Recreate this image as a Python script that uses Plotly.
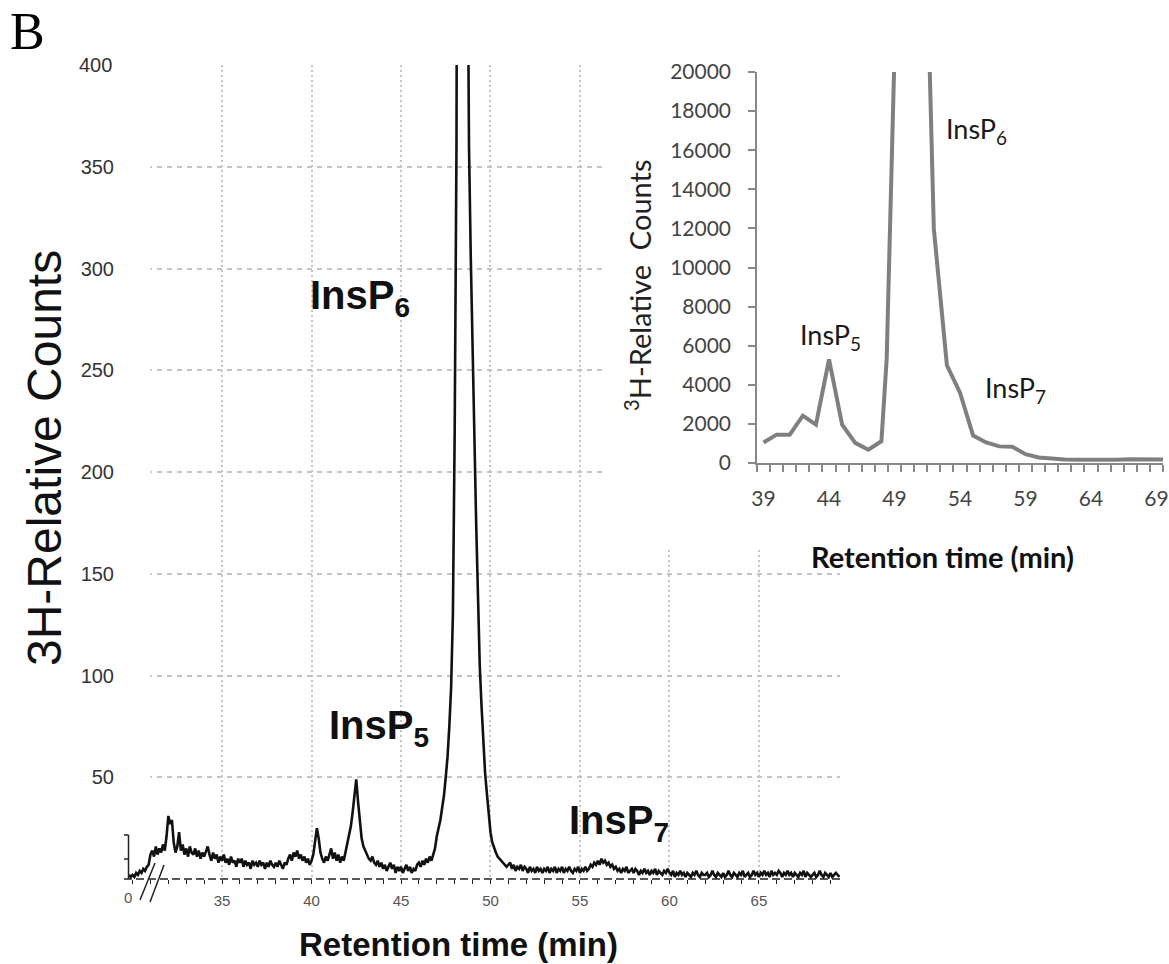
import plotly.graph_objects as go

W, H = 1169, 964

# ---------------- data ----------------
# main chromatogram: counts sampled every 0.1 min starting at 29.8 min
main_t0 = 29.8
main_dt = 0.1
main_counts = [
    2, 1,                                            # 29.8-29.9
    2, 1, 3, 2, 4, 3, 5, 4, 6, 7,                    # 30
    12, 14, 11, 16, 12, 15, 13, 17, 14, 21,          # 31
    31, 27, 29, 18, 13, 16, 23, 14, 17, 12,          # 32
    15, 11, 16, 13, 12, 15, 11, 14, 10, 13,          # 33
    11, 14, 16, 12, 9, 13, 10, 12, 8, 11,            # 34
    9, 12, 8, 10, 7, 11, 8, 9, 6, 10,                # 35
    8, 10, 6, 9, 7, 8, 5, 9, 7, 8,                   # 36
    6, 9, 7, 8, 5, 8, 6, 9, 7, 6,                    # 37
    8, 6, 9, 7, 5, 8, 7, 10, 12, 9,                  # 38
    13, 11, 14, 10, 12, 9, 11, 8, 10, 7,             # 39
    9, 12, 18, 25, 20, 13, 10, 8, 11, 9,             # 40
    12, 15, 10, 13, 9, 12, 8, 11, 9, 13,             # 41
    18, 21, 26, 33, 43, 49, 38, 27, 20, 16,          # 42
    14, 12, 10, 9, 11, 8, 7, 9, 6, 8,                # 43
    5, 7, 4, 6, 8, 5, 7, 3, 6, 4,                    # 44
    6, 3, 5, 7, 4, 6, 3, 5, 4, 7,                    # 45
    8, 6, 9, 7, 10, 8, 11, 9, 12, 15,                # 46
    21, 25, 29, 35, 41, 50, 60, 75, 94, 130,         # 47
    220, 360, 600, 1100, 1500, 1400, 1000, 500, 360, 305,  # 48
    255, 215, 175, 140, 105, 85, 65, 52, 42, 30,     # 49
    23, 18, 15, 13, 11, 10, 9, 8, 7, 6,              # 50
    7, 8, 5, 7, 4, 6, 5, 7, 4, 6,                    # 51
    5, 3, 6, 4, 5, 3, 6, 4, 5, 3,                    # 52
    5, 4, 6, 3, 5, 4, 6, 3, 5, 4,                    # 53
    6, 3, 5, 4, 6, 4, 3, 5, 4, 6,                    # 54
    3, 5, 4, 6, 4, 5, 7, 6, 8, 7,                    # 55
    9, 7, 10, 8, 9, 7, 8, 6, 7, 5,                   # 56
    6, 4, 5, 3, 5, 4, 6, 3, 4, 5,                    # 57
    3, 5, 4, 2, 4, 3, 5, 3, 4, 2,                    # 58
    4, 3, 5, 2, 4, 3, 2, 4, 3, 5,                    # 59
    3, 2, 4, 1, 3, 2, 4, 2, 3, 1,                    # 60
    3, 2, 1, 3, 2, 4, 2, 1, 3, 2,                    # 61
    2, 3, 1, 2, 4, 2, 1, 3, 2, 1,                    # 62
    3, 1, 2, 4, 2, 1, 3, 2, 1, 3,                    # 63
    2, 4, 1, 2, 3, 1, 2, 4, 2, 3,                    # 64
    1, 3, 2, 4, 2, 3, 1, 4, 2, 3,                    # 65
    2, 4, 3, 1, 3, 2, 4, 2, 3, 1,                    # 66
    3, 2, 1, 3, 2, 4, 1, 3, 2, 1,                    # 67
    2, 3, 1, 2, 4, 2, 1, 3, 2, 1,                    # 68
    3, 1, 2, 3, 2, 1,                                # 69.0-69.5
]
main_t = [round(main_t0 + i * main_dt, 2) for i in range(len(main_counts))]

main_xticks = [35, 40, 45, 50, 55, 60, 65]
main_xlabels = ["35", "40", "45", "50", "55", "60", "65"]
main_yticks = [50, 100, 150, 200, 250, 300, 350]

# inset chromatogram (per-minute fractions)
inset_t = [39, 40, 41, 42, 43, 44, 45, 46, 47, 48, 48.4, 49, 50, 51, 52, 53, 54,
           55, 56, 57, 58, 59, 60, 61, 62, 63, 64, 65, 66, 67, 68, 69, 70]
inset_counts = [1050, 1450, 1450, 2420, 1960, 5300, 1960, 1030, 680, 1110, 5300,
                21000, 60000, 38000, 12000, 5000, 3600, 1400, 1050, 850, 830,
                450, 280, 220, 180, 170, 160, 160, 170, 190, 200, 180, 170]
inset_xticks = [39, 44, 49, 54, 59, 64, 69]
inset_yticks = [0, 2000, 4000, 6000, 8000, 10000, 12000, 14000, 16000, 18000, 20000]


def px(x):
    return x / W


def py(y):
    return 1 - y / H


ARIAL = "Liberation Sans"
CAL = "Lato"
GRID = "#c4c4c4"

fig = go.Figure()
fig.add_trace(go.Scatter(x=main_t, y=main_counts, mode="lines",
                         line=dict(color="#111111", width=2.6),
                         xaxis="x", yaxis="y", hoverinfo="skip"))
fig.add_trace(go.Scatter(x=inset_t, y=inset_counts, mode="lines",
                         line=dict(color="#7f7f7f", width=4),
                         xaxis="x2", yaxis="y2", hoverinfo="skip"))

fig.update_layout(
    width=W, height=H, margin=dict(l=0, r=0, t=0, b=0, autoexpand=False),
    paper_bgcolor="white", plot_bgcolor="white", showlegend=False,
    xaxis=dict(domain=[px(127), px(840)], range=[29.69, 69.53], anchor="y",
               automargin=False,
               tickvals=main_xticks, ticktext=main_xlabels,
               ticks="outside", ticklen=4, tickcolor="#222", tickwidth=1,
               minor=dict(ticks="outside", ticklen=4, tick0=30, dtick=1,
                          tickcolor="#222", tickwidth=1),
               showgrid=True, gridcolor=GRID, griddash="2px,3px", gridwidth=1.5,
               showline=False, zeroline=False, ticklabelstandoff=4,
               tickfont=dict(family=ARIAL, size=15, color="#555")),
    yaxis=dict(domain=[py(879), py(65)], range=[0, 400], anchor="x",
               automargin=False,
               tickvals=main_yticks, ticks="",
               showgrid=True, gridcolor=GRID, griddash="5px,5px", gridwidth=1.5,
               showline=False, zeroline=False, ticklabelstandoff=12,
               tickfont=dict(family=ARIAL, size=20, color="#333")),
    xaxis2=dict(domain=[px(757), px(1163)], range=[38.5, 69.5], anchor="y2",
                automargin=False,
                tickvals=inset_xticks, ticks="outside", ticklen=0,
                minor=dict(ticks="outside", ticklen=7, tick0=38.5, dtick=1,
                           tickcolor="#888", tickwidth=1.5),
                showline=True, linecolor="#888", linewidth=1.5,
                showgrid=False, zeroline=False, ticklabelstandoff=16,
                tickfont=dict(family=CAL, size=21, color="#444")),
    yaxis2=dict(domain=[py(463), py(72)], range=[0, 20000], anchor="x2",
                automargin=False,
                tickvals=inset_yticks, ticktext=[str(v) for v in inset_yticks],
                ticks="outside", ticklen=7, tickcolor="#888", tickwidth=1.5,
                showline=True, linecolor="#888", linewidth=1.5,
                showgrid=False, zeroline=False, ticklabelstandoff=13,
                tickfont=dict(family=CAL, size=21, color="#444")),
)

shapes = [
    # white area behind the inset (hides main grid there)
    dict(type="rect", xref="x", yref="y", x0=56.3, x1=80, y0=162, y1=450,
         fillcolor="white", line=dict(width=0), layer="between"),
    # white strip left of the axis break
    dict(type="rect", xref="x", yref="y", x0=29.0, x1=31.0, y0=24, y1=450,
         fillcolor="white", line=dict(width=0), layer="between"),
    # dashed baseline / x axis
    dict(type="line", xref="paper", yref="paper", x0=px(124), x1=px(840),
         y0=py(879), y1=py(879), line=dict(color="#222", width=1.5, dash="8px,4px"),
         layer="above"),
    # short y-axis stub near the origin
    dict(type="line", xref="paper", yref="paper", x0=px(128.5), x1=px(128.5),
         y0=py(879), y1=py(835), line=dict(color="#222", width=1.5), layer="above"),
    dict(type="line", xref="paper", yref="paper", x0=px(124), x1=px(128.5),
         y0=py(835), y1=py(835), line=dict(color="#222", width=1.5), layer="above"),
    dict(type="line", xref="paper", yref="paper", x0=px(124), x1=px(128.5),
         y0=py(859), y1=py(859), line=dict(color="#222", width=1.5), layer="above"),
    # axis break marks //
    dict(type="line", xref="paper", yref="paper", x0=px(140), x1=px(155),
         y0=py(900), y1=py(863), line=dict(color="#222", width=1.5), layer="above"),
    dict(type="line", xref="paper", yref="paper", x0=px(150), x1=px(164),
         y0=py(902), y1=py(865), line=dict(color="#222", width=1.5), layer="above"),
]
fig.update_layout(shapes=shapes)

ann = [
    dict(text="B", x=px(27), y=py(32), font=dict(family="Liberation Serif", size=52, color="#000")),
    dict(text="3H-Relative Counts", x=px(44), y=py(458), textangle=-90,
         font=dict(family=ARIAL, size=48, color="#111")),
    dict(text="<b>Retention time (min)</b>", x=px(458), y=py(944),
         font=dict(family=ARIAL, size=33, color="#111")),
    dict(text="0", xref="x", x=29.75, y=py(897), font=dict(family=ARIAL, size=15, color="#555")),
    dict(text="400", xref="paper", yref="y", x=px(114), y=400, xanchor="right",
         font=dict(family=ARIAL, size=20, color="#333")),
    dict(text="<b>InsP<sub>6</sub></b>", x=px(360), y=py(298),
         font=dict(family=ARIAL, size=40, color="#111")),
    dict(text="<b>InsP<sub>5</sub></b>", x=px(379), y=py(728),
         font=dict(family=ARIAL, size=40, color="#111")),
    dict(text="<b>InsP<sub>7</sub></b>", x=px(619), y=py(823),
         font=dict(family=ARIAL, size=40, color="#111")),
    # inset texts
    dict(text="<sup>3</sup>H-Relative\u00a0 Counts", x=px(638), y=py(285), textangle=-90,
         font=dict(family=CAL, size=29, color="#222")),
    dict(text="<b>Retention time (min)</b>", x=px(942), y=py(556),
         font=dict(family=CAL, size=29, color="#111")),
    dict(text="InsP<sub>5</sub>", x=px(830), y=py(336), font=dict(family=CAL, size=27, color="#1a1a1a")),
    dict(text="InsP<sub>6</sub>", x=px(976), y=py(131), font=dict(family=CAL, size=27, color="#1a1a1a")),
    dict(text="InsP<sub>7</sub>", x=px(1015), y=py(389), font=dict(family=CAL, size=27, color="#1a1a1a")),
]
for a in ann:
    a.setdefault("xref", "paper")
    a.setdefault("yref", "paper")
    a.setdefault("showarrow", False)
    a.setdefault("xanchor", "center")
    a.setdefault("yanchor", "middle")
fig.update_layout(annotations=ann)

fig.write_html(
    "out.html",
    config={"displayModeBar": False},
    post_script="document.body.style.margin='0';document.body.style.overflow='hidden';",
)
